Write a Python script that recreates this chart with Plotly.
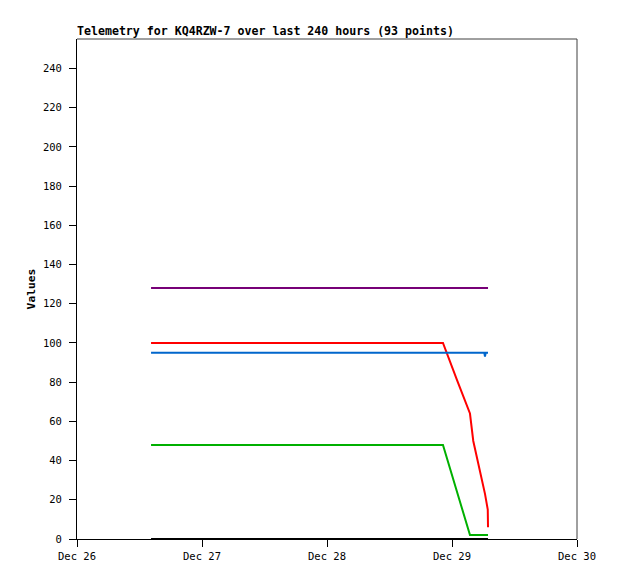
import plotly.graph_objects as go

TITLE = "Telemetry for KQ4RZW-7 over last 240 hours (93 points)"
Y_LABEL = "Values"

T_START = "2023-12-26 14:13"
T_END = "2023-12-29 06:55"

purple_t = [T_START, T_END]
purple_v = [128, 128]

red_t = [T_START, "2023-12-28 22:16", "2023-12-29 00:58", "2023-12-29 03:27",
         "2023-12-29 04:05", "2023-12-29 05:22", "2023-12-29 06:20",
         "2023-12-29 06:52", T_END]
red_v = [100, 100, 81, 64, 50, 35, 23, 15, 6]

blue_t = [T_START, "2023-12-29 06:12", "2023-12-29 06:20", "2023-12-29 06:28", T_END]
blue_v = [95, 95, 93, 95, 95]

green_t = [T_START, "2023-12-28 22:16", "2023-12-29 03:27", T_END]
green_v = [48, 48, 2, 2]

black_t = [T_START, T_END]
black_v = [0, 0]

X_RANGE = ["2023-12-26", "2023-12-30"]
Y_RANGE = [0, 255]
Y_TICKS = list(range(0, 241, 20))

series = [
    (purple_t, purple_v, "#770077"),
    (red_t, red_v, "#ff0000"),
    (blue_t, blue_v, "#0066cc"),
    (green_t, green_v, "#00b000"),
    (black_t, black_v, "#000000"),
]

FONT = "DejaVu Sans Mono"
W, H = 618, 579

fig = go.Figure()
for t, v, c in series:
    fig.add_trace(go.Scatter(x=t, y=v, mode="lines",
                             line=dict(color=c, width=2), showlegend=False))

fig.update_layout(
    width=W, height=H,
    margin=dict(l=69, r=49, t=31, b=48),
    paper_bgcolor="white", plot_bgcolor="white",
    font=dict(family=FONT, size=10.5, color="black"),
    title=dict(text="<b>" + TITLE + "</b>", x=69 / W, xanchor="left",
               y=1 - 23 / H, yanchor="middle",
               font=dict(family=FONT, size=11.6, color="black")),
    xaxis=dict(range=X_RANGE, type="date", dtick=86400000, tickformat="%b %d",
               showgrid=False, zeroline=False, showline=True, linecolor="black",
               linewidth=1, ticks="outside", ticklen=7, tickcolor="black",
               ticklabelstandoff=0),
    yaxis=dict(range=Y_RANGE, tickvals=Y_TICKS, showgrid=False, zeroline=False,
               showline=True, linecolor="black", linewidth=1, ticks="outside",
               ticklen=7, tickcolor="black", ticklabelstandoff=5,
               title=dict(text="<b>" + Y_LABEL + "</b>",
                          font=dict(family=FONT, size=11.3), standoff=4)),
)
fig.add_shape(type="line", xref="paper", yref="paper", x0=0, x1=1, y0=1, y1=1,
              line=dict(color="#404040", width=1))
fig.add_shape(type="line", xref="paper", yref="paper", x0=1, x1=1, y0=0, y1=1,
              line=dict(color="#404040", width=1))

fig.write_html("out.html")
